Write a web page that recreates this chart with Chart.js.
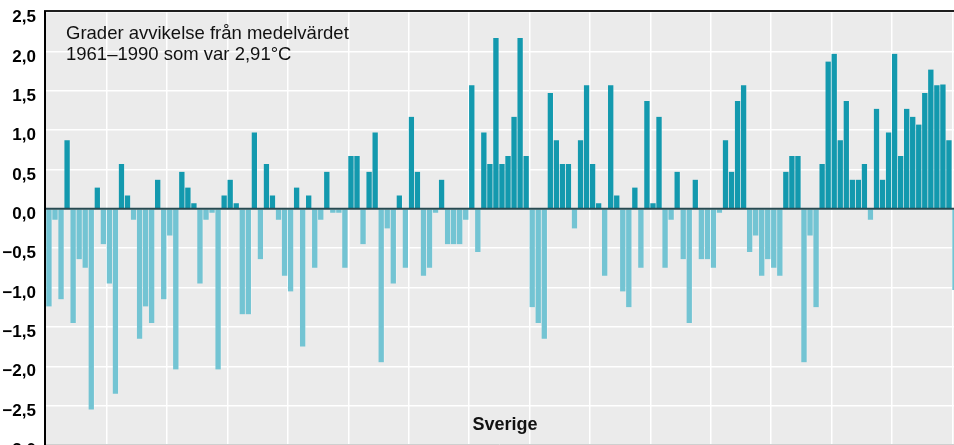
<!DOCTYPE html>
<html>
<head>
<meta charset="utf-8">
<script src="https://cdn.jsdelivr.net/npm/chart.js@4"></script>
<style>
html,body{margin:0;padding:0;background:#fff;overflow:hidden}
#wrap{width:954px;height:445px;position:relative}
</style>
</head>
<body>
<div id="wrap"><canvas id="c" width="954" height="445"></canvas></div>
<script>
// ---- data ----
const firstYear = 1860;
const anomalies = [
  -1.24, -0.14, -1.15, 0.87, -1.45, -0.64, -0.75, -2.55, 0.27, -0.45,   // 1860-1869
  -0.95, -2.35, 0.57, 0.17, -0.14, -1.65, -1.24, -1.45, 0.37, -1.15,    // 1870-1879
  -0.34, -2.04, 0.47, 0.27, 0.07, -0.95, -0.14, -0.05, -2.04, 0.17,     // 1880-1889
  0.37, 0.07, -1.34, -1.34, 0.97, -0.64, 0.57, 0.17, -0.14, -0.85,      // 1890-1899
  -1.05, 0.27, -1.75, 0.17, -0.75, -0.14, 0.47, -0.05, -0.05, -0.75,    // 1900-1909
  0.67, 0.67, -0.45, 0.47, 0.97, -1.95, -0.25, -0.95, 0.17, -0.75,      // 1910-1919
  1.17, 0.47, -0.85, -0.75, -0.05, 0.37, -0.45, -0.45, -0.45, -0.14,    // 1920-1929
  1.57, -0.55, 0.97, 0.57, 2.17, 0.57, 0.67, 1.17, 2.17, 0.67,          // 1930-1939
  -1.25, -1.45, -1.65, 1.47, 0.87, 0.57, 0.57, -0.25, 0.87, 1.57,       // 1940-1949
  0.57, 0.07, -0.85, 1.57, 0.17, -1.05, -1.25, 0.27, -0.75, 1.37,       // 1950-1959
  0.07, 1.17, -0.75, -0.14, 0.47, -0.64, -1.45, 0.37, -0.64, -0.64,     // 1960-1969
  -0.75, -0.05, 0.87, 0.47, 1.37, 1.57, -0.55, -0.34, -0.85, -0.64,     // 1970-1979
  -0.75, -0.85, 0.47, 0.67, 0.67, -1.95, -0.34, -1.25, 0.57, 1.87,      // 1980-1989
  1.97, 0.87, 1.37, 0.37, 0.37, 0.57, -0.14, 1.27, 0.37, 0.97,          // 1990-1999
  1.97, 0.67, 1.27, 1.17, 1.07, 1.47, 1.77, 1.57, 1.58, 0.87,           // 2000-2009
  -1.03                                                                 // 2010
];
const years = anomalies.map((_, i) => firstYear + i);
const decades = [1870, 1880, 1890, 1900, 1910, 1920, 1930, 1940, 1950, 1960, 1970, 1980, 1990, 2000, 2010];
const titleLines = ["Grader avvikelse från medelvärdet", "1961–1990 som var 2,91°C"];
const regionLabel = "Sverige";

// ---- styles ----
const POS = '#1399ae';
const NEG = '#73c4d3';
const FONT = "'Liberation Sans', Arial, Helvetica, sans-serif";

const points = years.map((y, i) => ({ x: y + 0.5, y: anomalies[i] }));

const decor = {
  id: 'decor',
  beforeDraw(chart) {
    const { ctx, chartArea: a } = chart;
    ctx.save();
    ctx.fillStyle = '#ebebeb';
    ctx.fillRect(a.left, a.top, a.right - a.left, a.bottom - a.top);
    ctx.restore();
  },
  afterDatasetsDraw(chart) {
    const { ctx, chartArea: a, scales } = chart;
    const y0 = scales.y.getPixelForValue(0);
    ctx.save();
    // zero line
    ctx.strokeStyle = '#274a51';
    ctx.lineWidth = 2;
    ctx.beginPath();
    ctx.moveTo(a.left, y0);
    ctx.lineTo(a.right, y0);
    ctx.stroke();
    // top frame line
    ctx.strokeStyle = '#1e1e1e';
    ctx.lineWidth = 2;
    ctx.beginPath();
    ctx.moveTo(a.left - 1, a.top - 1);
    ctx.lineTo(a.right, a.top - 1);
    ctx.stroke();
    // bottom light border
    ctx.strokeStyle = '#cfcfcf';
    ctx.lineWidth = 1;
    ctx.beginPath();
    ctx.moveTo(a.left, a.bottom - 0.5);
    ctx.lineTo(a.right, a.bottom - 0.5);
    ctx.stroke();
    // title text
    ctx.fillStyle = '#111';
    ctx.textAlign = 'left';
    ctx.textBaseline = 'alphabetic';
    ctx.font = '18.5px ' + FONT;
    ctx.fillText(titleLines[0], a.left + 21, a.top + 27);
    ctx.fillText(titleLines[1], a.left + 21, a.top + 48);
    // region label
    ctx.font = 'bold 18px ' + FONT;
    ctx.textAlign = 'center';
    ctx.fillText(regionLabel, a.left + 460, a.top + 417.5);
    ctx.restore();
  }
};

new Chart(document.getElementById('c'), {
  type: 'bar',
  data: {
    datasets: [{
      data: points,
      backgroundColor: c => (c.raw && c.raw.y >= 0 ? POS : NEG),
      borderColor: 'rgba(255,255,255,0.28)',
      borderWidth: { left: 0, right: 1, top: 0, bottom: 0 },
      borderSkipped: false,
      barPercentage: 1,
      categoryPercentage: 1
    }]
  },
  options: {
    responsive: false,
    animation: false,
    devicePixelRatio: 1,
    layout: { padding: { top: 12, right: 0, bottom: 0, left: 0 } },
    plugins: { legend: { display: false }, tooltip: { enabled: false }, title: { display: false } },
    scales: {
      x: {
        type: 'linear',
        min: 1859.79,
        max: 2010.28,
        offset: false,
        afterBuildTicks: s => { s.ticks = decades.map(v => ({ value: v })); },
        ticks: { display: false },
        grid: { color: '#ffffff', lineWidth: 1.5, drawTicks: false, offset: false },
        border: { display: false },
        afterFit: s => { s.height = 0; s.paddingLeft = 0; s.paddingRight = 0; s.paddingTop = 0; s.paddingBottom = 0; }
      },
      y: {
        min: -3,
        max: 2.5,
        ticks: {
          stepSize: 0.5,
          callback: v => v.toFixed(1).replace('.', ',').replace('-', '\u2212'),
          font: { family: FONT, weight: 'bold', size: 17 },
          color: '#000',
          padding: 9,
          labelOffset: 5.5
        },
        grid: { color: '#ffffff', lineWidth: 1.5, drawTicks: false },
        border: { display: true, color: '#000', width: 2, z: 1 },
        afterFit: s => { s.width = 45; s.paddingTop = 0; s.paddingBottom = 0; s.paddingLeft = 0; s.paddingRight = 0; }
      }
    }
  },
  plugins: [decor]
});
</script>
</body>
</html>
